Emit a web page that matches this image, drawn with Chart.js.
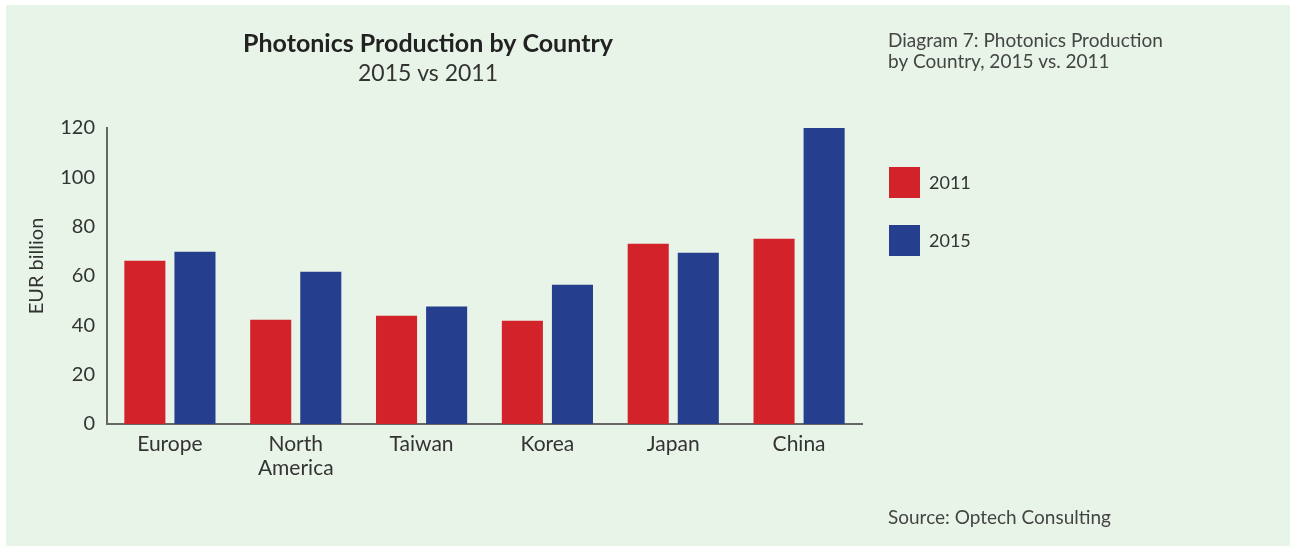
<!DOCTYPE html>
<html>
<head>
<meta charset="utf-8">
<script src="https://cdn.jsdelivr.net/npm/chart.js@4"></script>
<style>
  html, body { margin: 0; padding: 0; background: #fff; }
  #wrap { position: absolute; left: 6px; top: 5px; width: 1284px; height: 541px; background: #e9f4e8; }
  #chart { position: absolute; left: 0; top: 0; }
</style>
</head>
<body>
<div id="wrap"></div>
<canvas id="chart" width="1292" height="546"></canvas>
<script>
const countries = ["Europe", ["North", "America"], "Taiwan", "Korea", "Japan", "China"];
const values2011 = [66.2, 42.3, 43.9, 41.9, 73.1, 75.1];
const values2015 = [69.8, 61.7, 47.6, 56.5, 69.4, 120];
const seriesNames = ["2011", "2015"];
const yTicks = [0, 20, 40, 60, 80, 100, 120];

const FONT = "Lato, 'Open Sans', sans-serif";
const TEXT = "#333";

// titles, notes, axis title and the legend drawn around the plot
const extras = {
    id: "extras",
    afterDraw(chart) {
        const ctx = chart.ctx;
        ctx.save();
        ctx.fillStyle = "#222";
        ctx.textAlign = "center";
        ctx.textBaseline = "middle";
        ctx.font = "bold 25px " + FONT;
        ctx.fillText("Photonics Production by Country", 428, 44);
        ctx.fillStyle = TEXT;
        ctx.font = "23px " + FONT;
        ctx.fillText("2015 vs 2011", 428, 74);

        ctx.save();
        ctx.translate(37, 266);
        ctx.rotate(-Math.PI / 2);
        ctx.font = "20px " + FONT;
        ctx.fillText("EUR billion", 0, 0);
        ctx.restore();

        ctx.textAlign = "left";
        ctx.fillStyle = "#444";
        ctx.font = "19px " + FONT;
        ctx.fillText("Diagram 7: Photonics Production", 888, 41);
        ctx.fillText("by Country, 2015 vs. 2011", 888, 62);
        ctx.fillText("Source: Optech Consulting", 888, 518);

        // legend
        chart.data.datasets.forEach((ds, i) => {
            const y = 167 + i * 58;
            ctx.fillStyle = ds.backgroundColor;
            ctx.fillRect(889, y, 31, 31);
            ctx.fillStyle = TEXT;
            ctx.font = "18px " + FONT;
            ctx.fillText(ds.label, 929, y + 16);
        });
        ctx.restore();
    }
};

new Chart(document.getElementById("chart"), {
    type: "bar",
    data: {
        labels: countries,
        datasets: [
            { label: seriesNames[0], data: values2011, backgroundColor: "#d2232a" },
            { label: seriesNames[1], data: values2015, backgroundColor: "#253f8e" }
        ]
    },
    options: {
        responsive: false,
        animation: false,
        categoryPercentage: 0.796,
        barPercentage: 0.82,
        layout: { padding: { left: 25, top: 128, right: 430, bottom: 0 } },
        plugins: { legend: { display: false }, title: { display: false }, tooltip: { enabled: false } },
        scales: {
            x: {
                grid: { display: false },
                border: { display: true, color: "#666", width: 2 },
                ticks: { color: TEXT, font: { family: FONT, size: 21, lineHeight: 1.15 }, padding: 0, maxRotation: 0, autoSkip: false },
                afterFit(scale) { scale.height = 122; }
            },
            y: {
                min: 0,
                max: 120,
                afterBuildTicks(scale) { scale.ticks = yTicks.map(v => ({ value: v })); },
                grid: { display: false, drawTicks: false },
                border: { display: true, color: "#666", width: 2 },
                ticks: { color: TEXT, font: { family: FONT, size: 20 }, padding: 12 },
                afterFit(scale) { scale.width = 107 - 25; }
            }
        }
    },
    plugins: [extras]
});
</script>
</body>
</html>
